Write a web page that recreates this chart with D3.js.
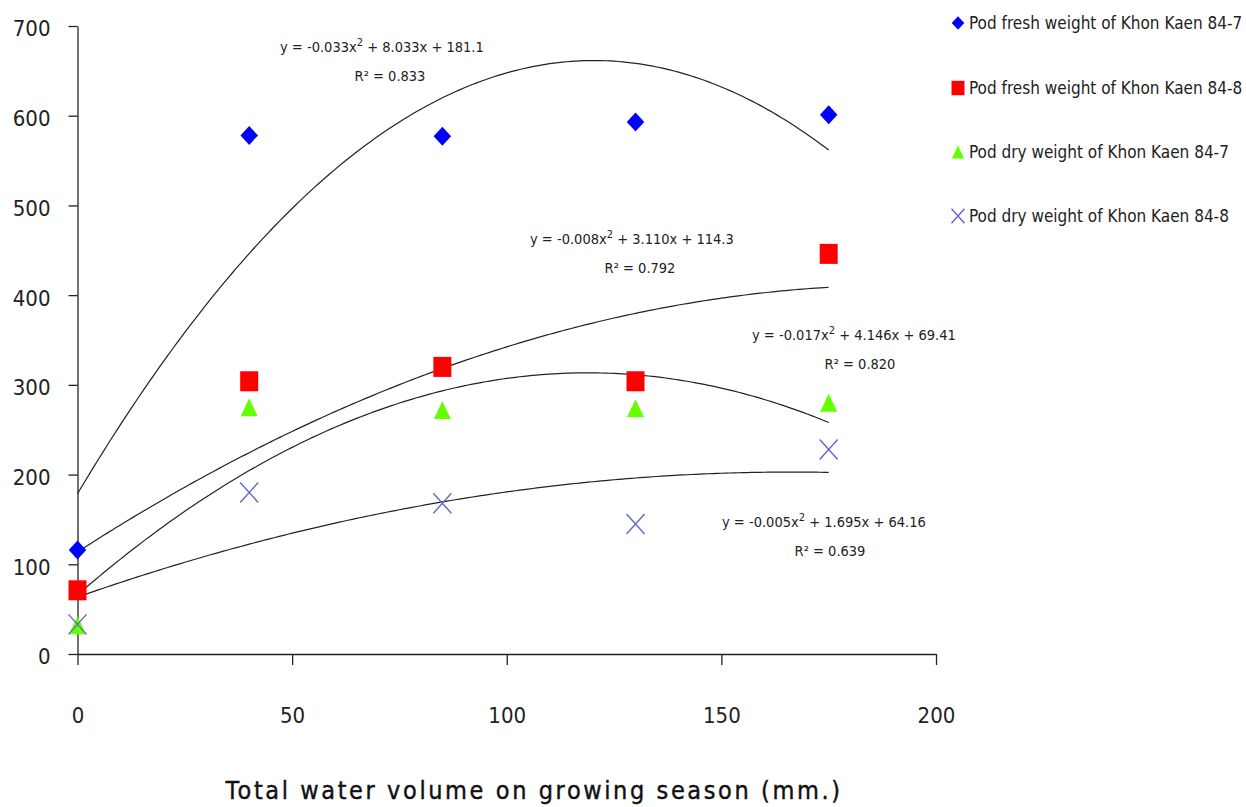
<!DOCTYPE html>
<html lang="en">
<head>
<meta charset="UTF-8">
<title>Pod weight vs water volume</title>
<style>
  body { margin: 0; background: #fff; }
  svg text { font-family: "DejaVu Sans Condensed", "DejaVu Sans", sans-serif; }
</style>
</head>
<body>
<div id="chart"></div>
<script src="https://d3js.org/d3.v7.min.js"></script>
<script>
// data
let waterVolume = [0, 40, 85, 130, 175];
let freshKK847 = [116, 578, 577, 593, 601];
let freshKK848 = [71, 304, 320, 304, 446];
let dryKK847 = [32, 275, 272, 274, 280];
let dryKK848 = [33, 180, 168, 145, 228];
let seriesNames = [
  "Pod fresh weight of Khon Kaen 84-7",
  "Pod fresh weight of Khon Kaen 84-8",
  "Pod dry weight of Khon Kaen 84-7",
  "Pod dry weight of Khon Kaen 84-8"
];
// trendline labels as printed on the chart
let trendText = [
  ["-0.033", "8.033", "181.1"],
  ["-0.008", "3.110", "114.3"],
  ["-0.017", "4.146", "69.41"],
  ["-0.005", "1.695", "64.16"]
];
let rSquared = ["0.833", "0.792", "0.820", "0.639"];
let xTicks = [0, 50, 100, 150, 200];
let yTicks = [0, 100, 200, 300, 400, 500, 600, 700];

let W = 1246, H = 807;
let svg = d3.select("#chart").append("svg").attr("width", W).attr("height", H);

let x = d3.scaleLinear().domain([0, 200]).range([77.5, 936]);
let y = d3.scaleLinear().domain([0, 700]).range([654, 26]);

// axes
let yAxis = d3.axisLeft(y).tickValues(yTicks).tickSize(9).tickPadding(18).tickSizeOuter(0);
let gy = svg.append("g").attr("transform", "translate(" + x(0) + ",0)").call(yAxis);
gy.selectAll("text").style("font-size", "22px").attr("fill", "#222").attr("dy", "0.45em");

let xAxis = d3.axisBottom(x).tickValues(xTicks).tickSize(11).tickPadding(42).tickSizeOuter(0);
let gx = svg.append("g").attr("transform", "translate(0," + y(0) + ")").call(xAxis);
gx.selectAll("text").style("font-size", "22px").attr("fill", "#222");
svg.selectAll(".domain, .tick line").attr("stroke", "#222").attr("stroke-width", 1.3);

// least squares quadratic fit (the chart's polynomial trendlines)
function quadFit(xs, ys) {
  let s = [0, 0, 0, 0, 0], t = [0, 0, 0];
  xs.forEach((xv, i) => {
    for (let k = 0; k < 5; k++) s[k] += Math.pow(xv, k);
    for (let k = 0; k < 3; k++) t[k] += Math.pow(xv, k) * ys[i];
  });
  let A = [[s[0], s[1], s[2], t[0]], [s[1], s[2], s[3], t[1]], [s[2], s[3], s[4], t[2]]];
  for (let i = 0; i < 3; i++) {
    for (let j = i + 1; j < 3; j++) {
      let f = A[j][i] / A[i][i];
      for (let k = i; k < 4; k++) A[j][k] -= f * A[i][k];
    }
  }
  let c = [0, 0, 0];
  for (let i = 2; i >= 0; i--) {
    let v = A[i][3];
    for (let k = i + 1; k < 3; k++) v -= A[i][k] * c[k];
    c[i] = v / A[i][i];
  }
  return c; // c0 + c1 x + c2 x^2
}

let allSeries = [freshKK847, freshKK848, dryKK847, dryKK848];

let trendX = d3.range(0, 175.01, 1);
let line = d3.line().x(d => x(d[0])).y(d => y(d[1]));
allSeries.forEach(vals => {
  let c = quadFit(waterVolume, vals);
  let pts = trendX.map(v => [v, c[0] + c[1] * v + c[2] * v * v]);
  svg.append("path").attr("d", line(pts)).attr("fill", "none")
    .attr("stroke", "#222").attr("stroke-width", 1.2);
});

// markers
let colors = ["#0000ff", "#ff0000", "#66ff00", "#6666cc"];

function drawMarker(g, i, cx, cy, sc) {
  sc = sc || 1;
  if (i === 0) {
    let r = 9.5 * sc;
    g.append("path").attr("d", "M" + cx + "," + (cy - r) + "L" + (cx + r * 0.92) + "," + cy +
      "L" + cx + "," + (cy + r) + "L" + (cx - r * 0.92) + "," + cy + "Z").attr("fill", colors[i]);
  } else if (i === 1) {
    let w = 9 * sc, h = 10 * sc;
    g.append("rect").attr("x", cx - w).attr("y", cy - h).attr("width", 2 * w).attr("height", 2 * h)
      .attr("fill", colors[i]);
  } else if (i === 2) {
    let w = 8.5 * sc, h = 9 * sc;
    g.append("path").attr("d", "M" + cx + "," + (cy - h) + "L" + (cx + w) + "," + (cy + h) +
      "L" + (cx - w) + "," + (cy + h) + "Z").attr("fill", colors[i]);
  } else {
    let s = 9 * sc, t = 10 * sc;
    g.append("path")
      .attr("d", "M" + (cx - s) + "," + (cy - t) + "L" + (cx + s) + "," + (cy + t) +
                 "M" + (cx - s) + "," + (cy + t) + "L" + (cx + s) + "," + (cy - t))
      .attr("stroke", colors[i]).attr("stroke-width", 1.4).attr("fill", "none");
  }
}

allSeries.forEach((vals, i) => {
  let g = svg.append("g");
  vals.forEach((v, k) => drawMarker(g, i, x(waterVolume[k]), y(v)));
});

// equations
let eqPos = [[280, 52, 390, 81], [530, 244, 640, 273], [752, 340, 860, 369], [722, 527, 830, 556]];
trendText.forEach((t, i) => {
  let p = eqPos[i];
  let tx = svg.append("text").attr("x", p[0]).attr("y", p[1])
    .style("font-size", "14.5px").attr("fill", "#222");
  tx.append("tspan").text("y = " + t[0] + "x");
  tx.append("tspan").attr("dy", -6).style("font-size", "11px").text("2");
  tx.append("tspan").attr("dy", 6).text(" + " + t[1] + "x + " + t[2]);
  svg.append("text").attr("x", p[2]).attr("y", p[3]).attr("text-anchor", "middle")
    .style("font-size", "14.5px").attr("fill", "#222")
    .text("R\u00b2 = " + rSquared[i]);
});

// legend
let legY = [23, 88, 152, 216];
seriesNames.forEach((name, i) => {
  let g = svg.append("g");
  drawMarker(g, i, 958, legY[i], 0.72);
  g.append("text").attr("x", 969).attr("y", legY[i] + 6)
    .style("font-size", "17px").attr("fill", "#222").text(name);
});

// axis title
svg.append("text").attr("x", 534).attr("y", 799).attr("text-anchor", "middle")
  .attr("font-family", "'DejaVu Sans', sans-serif")
  .style("font-size", "25px").style("letter-spacing", "2.6px")
  .attr("fill", "#111").attr("stroke", "#111").attr("stroke-width", 0.4)
  .text("Total water volume on growing season (mm.)");
</script>
</body>
</html>
